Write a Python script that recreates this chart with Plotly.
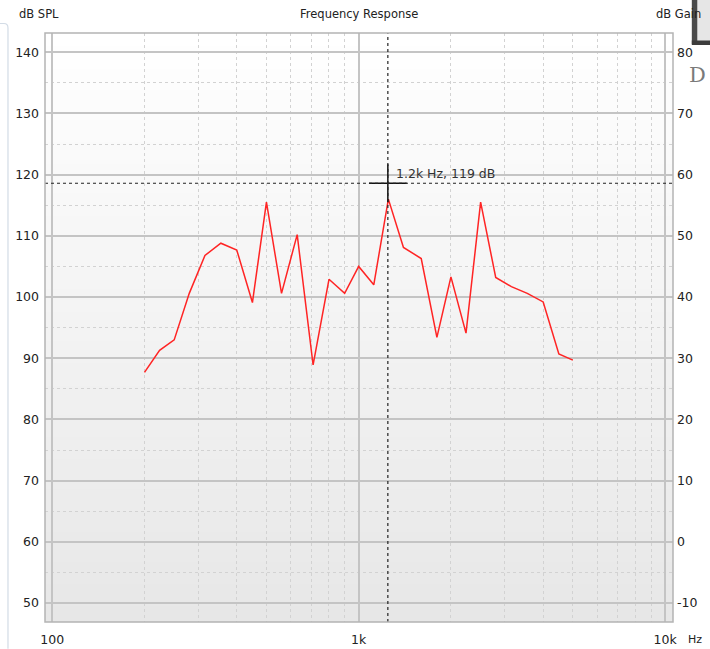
import math
import plotly.graph_objects as go

# Measured SPL per 1/20-decade band
freqs_hz = [200, 224, 250, 280, 315, 355, 400, 450, 500, 560, 630, 710, 800, 900,
            1000, 1120, 1250, 1400, 1600, 1800, 2000, 2240, 2500, 2800, 3150, 3550,
            4000, 4500, 5000]
spl_db = [87.7, 91.3, 93.0, 100.6, 106.8, 108.8, 107.7, 99.1, 115.5, 100.6, 110.2,
          88.9, 102.9, 100.6, 105.0, 102.0, 116.0, 108.1, 106.3, 93.4, 103.3, 94.1,
          115.5, 103.2, 101.7, 100.6, 99.2, 90.7, 89.7]

# Cursor readout
cursor_hz = 1245
cursor_db = 118.6

x_tick_vals = [100, 1000, 10000]
x_tick_text = ["100", "1k", "10k"]
x_minor_vals = [200, 300, 400, 500, 600, 700, 800, 900,
                2000, 3000, 4000, 5000, 6000, 7000, 8000, 9000]
spl_ticks = [50, 60, 70, 80, 90, 100, 110, 120, 130, 140]
gain_offset = 60  # dB Gain axis = dB SPL - 60
gain_ticks = [v - gain_offset for v in spl_ticks]
gain_text = [str(v) for v in gain_ticks]

W, H = 710, 649
L, R, T, B = 45, 672.7, 33, 622.3

def px(x):
    return (x - L) / (R - L)

def py(y):
    return (B - y) / (B - T)

FONT = "DejaVu Sans"

fig = go.Figure()

fig.add_trace(go.Scatter(
    x=freqs_hz, y=spl_db, mode="lines",
    line=dict(color="#ff2424", width=1.5),
    hoverinfo="skip", showlegend=False))

# cursor lines
fig.add_shape(type="line", xref="x", yref="y domain", x0=cursor_hz, x1=cursor_hz,
              y0=0, y1=1, line=dict(color="#222222", width=1.2, dash="dot"))
fig.add_shape(type="line", xref="x domain", yref="y", x0=0, x1=1,
              y0=cursor_db, y1=cursor_db, line=dict(color="#222222", width=1.2, dash="dot"))
fig.add_trace(go.Scatter(
    x=[cursor_hz], y=[cursor_db], mode="markers",
    marker=dict(symbol="cross-thin", size=27, line=dict(color="#111111", width=1.5)),
    hoverinfo="skip", showlegend=False))
label = f"{math.floor(cursor_hz / 100) / 10:.1f}k Hz, {round(cursor_db)} dB"
fig.add_annotation(x=math.log10(cursor_hz), y=cursor_db, xref="x", yref="y",
                   text=label, showarrow=False, xanchor="left", yanchor="middle",
                   xshift=6, yshift=10, font=dict(family=FONT, size=12.5, color="#333333"))

# vertical gradient in the plot area
n = 80
top, bot = 255, 231
for i in range(n):
    c = round(top + (bot - top) * (i + 0.5) / n)
    fig.add_shape(type="rect", xref="x domain", yref="y domain",
                  x0=0, x1=1, y0=1 - (i + 1) / n, y1=1 - i / n + 0.002,
                  fillcolor=f"rgb({c},{c},{c})", line=dict(width=0), layer="below")

# plot frame
fig.add_shape(type="rect", xref="paper", yref="paper", x0=0, x1=1, y0=0, y1=1,
              line=dict(color="#b4b4b4", width=1.5), layer="above")

# side panel edge on the left
fig.add_shape(type="path", xref="paper", yref="paper",
              path=f"M {px(0)} {py(23.5)} L {px(4)} {py(23.5)} Q {px(8)} {py(23.5)} {px(8)} {py(28)} L {px(8)} {py(649)}",
              line=dict(color="#d3dce6", width=1.2))

# logo fragment in the top right corner
fig.add_shape(type="rect", xref="paper", yref="paper", x0=px(697), x1=px(710), y0=py(41), y1=py(0),
              fillcolor="#e6e6e6", line=dict(width=0))
fig.add_shape(type="rect", xref="paper", yref="paper", x0=px(691.5), x1=px(697), y0=py(44), y1=py(0),
              fillcolor="#4a4a4a", line=dict(width=0))
fig.add_shape(type="rect", xref="paper", yref="paper", x0=px(691.5), x1=px(710), y0=py(45), y1=py(40.5),
              fillcolor="#3c3c3c", line=dict(width=0))
fig.add_annotation(x=px(687), y=py(75), xref="paper", yref="paper", text="D", showarrow=False,
                   xanchor="left", yanchor="middle",
                   font=dict(family="DejaVu Serif", size=21, color="#7a7a7a"))

# header texts
hdr = dict(family=FONT, size=11.5, color="#222222")
fig.add_annotation(x=px(17), y=py(14), xref="paper", yref="paper", text="dB SPL",
                   showarrow=False, xanchor="left", yanchor="middle", font=hdr)
fig.add_annotation(x=0.5, y=py(14), xref="paper", yref="paper", text="Frequency Response",
                   showarrow=False, xanchor="center", yanchor="middle", font=hdr)
fig.add_annotation(x=px(654), y=py(14), xref="paper", yref="paper", text="dB Gain",
                   showarrow=False, xanchor="left", yanchor="middle", font=hdr)
fig.add_annotation(x=px(686), y=py(640), xref="paper", yref="paper", text="Hz",
                   showarrow=False, xanchor="left", yanchor="middle",
                   font=dict(family=FONT, size=11, color="#222222"))

tickfont = dict(family=FONT, size=12.5, color="#222222")
grid_major = "#c4c4c4"
grid_minor = "#d2d2d2"

fig.update_layout(
    width=W, height=H,
    margin=dict(l=L, r=W - R, t=T, b=H - B, pad=0, autoexpand=False),
    paper_bgcolor="white", plot_bgcolor="rgba(0,0,0,0)",
    showlegend=False,
    xaxis=dict(type="log", range=[math.log10(94.7), math.log10(10610)],
               tickvals=x_tick_vals, ticktext=x_tick_text, tickfont=tickfont,
               ticks="", ticklabelstandoff=8, automargin=False,
               showgrid=True, gridcolor=grid_major, gridwidth=1.5, zeroline=False,
               minor=dict(tickvals=x_minor_vals, showgrid=True, gridcolor=grid_minor,
                          griddash="dot", gridwidth=1, ticks=""),
               showline=False, fixedrange=True),
    yaxis=dict(range=[46.9, 143.15], tickvals=spl_ticks, tickfont=tickfont,
               ticks="", ticklabelstandoff=5, automargin=False,
               showgrid=True, gridcolor=grid_major, gridwidth=1.5, zeroline=False,
               minor=dict(dtick=5, showgrid=True, gridcolor=grid_minor,
                          griddash="dot", gridwidth=1, ticks=""),
               showline=False, fixedrange=True),
    yaxis2=dict(range=[46.9 - gain_offset, 143.15 - gain_offset], overlaying="y", side="right",
                tickvals=gain_ticks, ticktext=gain_text, tickfont=tickfont,
                ticks="", ticklabelstandoff=3, automargin=False, showgrid=False, zeroline=False,
                showline=False, fixedrange=True),
)

# invisible companion trace so the gain axis is rendered
fig.add_trace(go.Scatter(x=[freqs_hz[0]], y=[spl_db[0] - gain_offset], yaxis="y2",
                         mode="markers", marker=dict(opacity=0), hoverinfo="skip",
                         showlegend=False))

fig.write_html("out.html")
